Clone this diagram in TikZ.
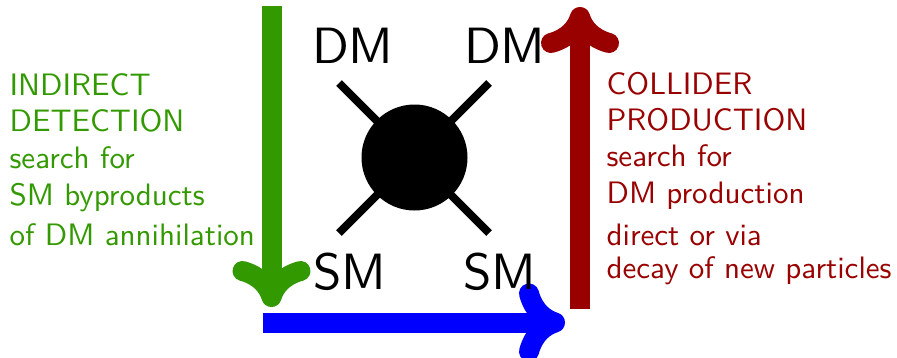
\documentclass[tikz,border=0pt]{standalone}
\usetikzlibrary{arrows.meta}
\definecolor{dmgreen}{RGB}{51,153,0}
\definecolor{dmred}{RGB}{153,0,0}
\definecolor{dmblue}{RGB}{0,0,255}
\begin{document}
\begin{tikzpicture}[x=1pt,y=-1pt,
  bigarrow/.style={line width=20pt, -{Computer Modern Rightarrow[length=46pt,width=78pt,round]}},
  leg/.style={line width=8pt},
  lbl/.style={font=\fontsize{10}{12}\selectfont\sffamily, scale=5.1, inner sep=0pt, anchor=base west},
  txt/.style={font=\fontsize{10}{12}\selectfont\sffamily, scale=3.1, inner sep=0pt, anchor=base west}]
\useasboundingbox (0,0) rectangle (897,357);
% arrows
\coordinate (gs) at (271.5,6);
\coordinate (ge) at (271.5,307);
\coordinate (bs) at (263,322.5);
\coordinate (be) at (565,322.5);
\coordinate (rs) at (580,309);
\coordinate (re) at (580,7);
\draw[bigarrow, dmgreen] (gs) -- (ge);
\draw[bigarrow, dmblue] (bs) -- (be);
\draw[bigarrow, dmred] (rs) -- (re);
% blob and legs
\coordinate (ul) at (339,83);
\coordinate (ur) at (489,83);
\coordinate (ll) at (339,233);
\coordinate (lr) at (489,233);
\draw[leg] (ul) -- (lr);
\draw[leg] (ur) -- (ll);
\node[circle, fill, minimum size=106pt, inner sep=0pt] (blob) at (414.5,157.5) {};
% particle labels
\node[lbl] (dm1) at (311,63) {DM};
\node[lbl] (dm2) at (463,63) {DM};
\node[lbl] (sm1) at (312.5,289) {SM};
\node[lbl] (sm2) at (462,289) {SM};
% left text
\node[txt, dmgreen] (l1) at (9,95) {INDIRECT};
\node[txt, dmgreen] (l2) at (9,131.7) {DETECTION};
\node[txt, dmgreen] (l3) at (9,168.3) {search for};
\node[txt, dmgreen] (l4) at (9,205) {SM byproducts};
\node[txt, dmgreen] (l5) at (9,245) {of DM annihilation};
% right text
\node[txt, dmred] (r1) at (606,94) {COLLIDER};
\node[txt, dmred] (r2) at (606,130.7) {PRODUCTION};
\node[txt, dmred] (r3) at (606,166.7) {search for};
\node[txt, dmred] (r4) at (606,203) {DM production};
\node[txt, dmred] (r5) at (606,245) {direct or via};
\node[txt, dmred] (r6) at (606,278) {decay of new particles};
\end{tikzpicture}
\end{document}
